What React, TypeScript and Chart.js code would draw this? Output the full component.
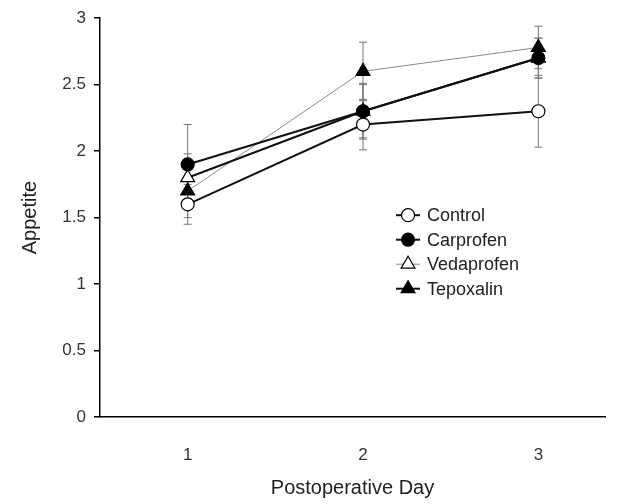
import React, { useEffect, useRef } from 'react';
import { Chart, registerables } from 'chart.js';

Chart.register(...registerables);

const days = [1, 2, 3];
const seriesNames = ['Control', 'Carprofen', 'Vedaprofen', 'Tepoxalin'];
const control = [1.6, 2.2, 2.3];
const carprofen = [1.9, 2.3, 2.7];
const vedaprofen = [1.8, 2.3, 2.7];
const tepoxalin = [1.7, 2.6, 2.78];
const controlErr = [0.15, 0.19, 0.27];
const carprofenErr = [0.3, 0.2, 0.15];
const vedaprofenErr = [0.18, 0.21, 0.15];
const tepoxalinErr = [0.2, 0.22, 0.16];
const yTicks = [0, 0.5, 1, 1.5, 2, 2.5, 3];
const yTickLabels = ['0', '0.5', '1', '1.5', '2', '2.5', '3'];
const xTickLabels = ['1', '2', '3'];

const FONT = '"Liberation Sans", Arial, sans-serif';

const seriesValues = [control, carprofen, vedaprofen, tepoxalin];
const seriesErrors = [controlErr, carprofenErr, vedaprofenErr, tepoxalinErr];
const markerStyles = ['circle', 'circle', 'triangle', 'triangle'];
const markerFills = ['#ffffff', '#000000', '#ffffff', '#000000'];
const markerSizes = [6.5, 6.5, 8, 8];
const lineColors = ['#111111', '#111111', '#111111', '#8a8a8a'];
const lineWidths = [2, 2, 2, 1];
const legendLineColors = ['#111111', '#111111', '#8a8a8a', '#111111'];
const legendLineWidths = [2, 2, 1, 2];

function drawMarker(ctx: CanvasRenderingContext2D, style: string, x: number, y: number, r: number, fill: string) {
  ctx.beginPath();
  if (style === 'circle') {
    ctx.arc(x, y, r, 0, Math.PI * 2);
  } else {
    let rad = 0;
    ctx.moveTo(x + Math.sin(rad) * r, y - Math.cos(rad) * r);
    rad += (2 * Math.PI) / 3;
    ctx.lineTo(x + Math.sin(rad) * r, y - Math.cos(rad) * r);
    rad += (2 * Math.PI) / 3;
    ctx.lineTo(x + Math.sin(rad) * r, y - Math.cos(rad) * r);
    ctx.closePath();
  }
  ctx.fillStyle = fill;
  ctx.fill();
  ctx.strokeStyle = '#000';
  ctx.lineWidth = 1.2;
  ctx.stroke();
}

const errorBarPlugin = {
  id: 'errorBars',
  beforeDatasetsDraw(chart: any) {
    const { ctx, scales } = chart;
    const x = scales.x;
    const y = scales.y;
    ctx.save();
    ctx.strokeStyle = '#777';
    ctx.lineWidth = 1;
    chart.data.datasets.forEach((ds: any, di: number) => {
      const errs = seriesErrors[di];
      ds.data.forEach((p: any, i: number) => {
        const e = errs[i];
        const px = x.getPixelForValue(p.x);
        const top = y.getPixelForValue(p.y + e);
        const bot = y.getPixelForValue(p.y - e);
        ctx.beginPath();
        ctx.moveTo(px, top);
        ctx.lineTo(px, bot);
        ctx.moveTo(px - 4, top);
        ctx.lineTo(px + 4, top);
        ctx.moveTo(px - 4, bot);
        ctx.lineTo(px + 4, bot);
        ctx.stroke();
      });
    });
    ctx.restore();
  },
};

const legendPlugin = {
  id: 'customLegend',
  afterDraw(chart: any) {
    const { ctx, chartArea } = chart;
    const cx = chartArea.left + chartArea.width * 0.61;
    const y0 = chartArea.top + (chartArea.bottom - chartArea.top) * 0.494;
    const gap = 24.5;
    ctx.save();
    seriesNames.forEach((name, i) => {
      const cy = y0 + i * gap;
      ctx.beginPath();
      ctx.strokeStyle = legendLineColors[i];
      ctx.lineWidth = legendLineWidths[i];
      ctx.moveTo(cx - 12, cy);
      ctx.lineTo(cx + 12, cy);
      ctx.stroke();
      drawMarker(ctx, markerStyles[i], cx, cy, markerSizes[i], markerFills[i]);
      ctx.fillStyle = '#222';
      ctx.font = `18px ${FONT}`;
      ctx.textBaseline = 'middle';
      ctx.textAlign = 'left';
      ctx.fillText(name, cx + 19, cy + 1);
    });
    ctx.restore();
  },
};

export default function App() {
  const ref = useRef<HTMLCanvasElement | null>(null);

  useEffect(() => {
    if (!ref.current) return;
    const datasets = seriesNames.map((name, i) => ({
      label: name,
      data: days.map((d, j) => ({ x: d, y: seriesValues[i][j] })),
      showLine: true,
      borderColor: lineColors[i],
      borderWidth: lineWidths[i],
      tension: 0,
      pointStyle: markerStyles[i],
      pointRadius: markerSizes[i],
      pointBackgroundColor: markerFills[i],
      pointBorderColor: '#000',
      pointBorderWidth: 1.2,
      fill: false,
    }));

    const chart = new Chart(ref.current, {
      type: 'line',
      data: { datasets } as any,
      options: {
        animation: false,
        responsive: false,
        maintainAspectRatio: false,
        layout: { padding: { left: 0, right: 30, top: 18, bottom: 0 } },
        plugins: {
          legend: { display: false },
          tooltip: { enabled: false },
        },
        scales: {
          x: {
            type: 'linear',
            min: 0.5,
            max: 3.38,
            afterBuildTicks: (s: any) => {
              s.ticks = days.map((v) => ({ value: v }));
            },
            afterFit: (s: any) => {
              s.height = 87;
            },
            grid: { display: false, drawTicks: false },
            border: { display: true, color: '#000', width: 1.5 },
            ticks: {
              padding: 28,
              color: '#333',
              font: { size: 17, family: FONT },
              maxRotation: 0,
              callback: (v: any) => {
                const k = days.indexOf(Number(v));
                return k >= 0 ? xTickLabels[k] : '';
              },
            },
            title: {
              display: true,
              text: 'Postoperative Day',
              color: '#222',
              font: { size: 20, family: FONT },
              padding: { top: 0, bottom: 4 },
            },
          },
          y: {
            type: 'linear',
            min: 0,
            max: 3,
            afterBuildTicks: (s: any) => {
              s.ticks = yTicks.map((v) => ({ value: v }));
            },
            afterFit: (s: any) => {
              s.width = 100;
            },
            grid: {
              drawOnChartArea: false,
              drawTicks: true,
              tickLength: 6,
              color: '#000',
              lineWidth: 1.5,
            },
            border: { display: true, color: '#000', width: 1.5 },
            ticks: {
              padding: 8,
              color: '#333',
              font: { size: 17, family: FONT },
              callback: (v: any) => {
                const k = yTicks.indexOf(Number(v));
                return k >= 0 ? yTickLabels[k] : '';
              },
            },
            title: {
              display: true,
              text: 'Appetite',
              color: '#222',
              font: { size: 20, family: FONT },
              padding: { top: 18, bottom: 0 },
            },
          },
        },
      } as any,
      plugins: [errorBarPlugin, legendPlugin],
    });
    return () => chart.destroy();
  }, []);

  return (
    <div style={{ position: 'fixed', left: 0, top: 0, width: 635, height: 504, background: '#fff' }}>
      <canvas ref={ref} width={635} height={504} />
    </div>
  );
}
